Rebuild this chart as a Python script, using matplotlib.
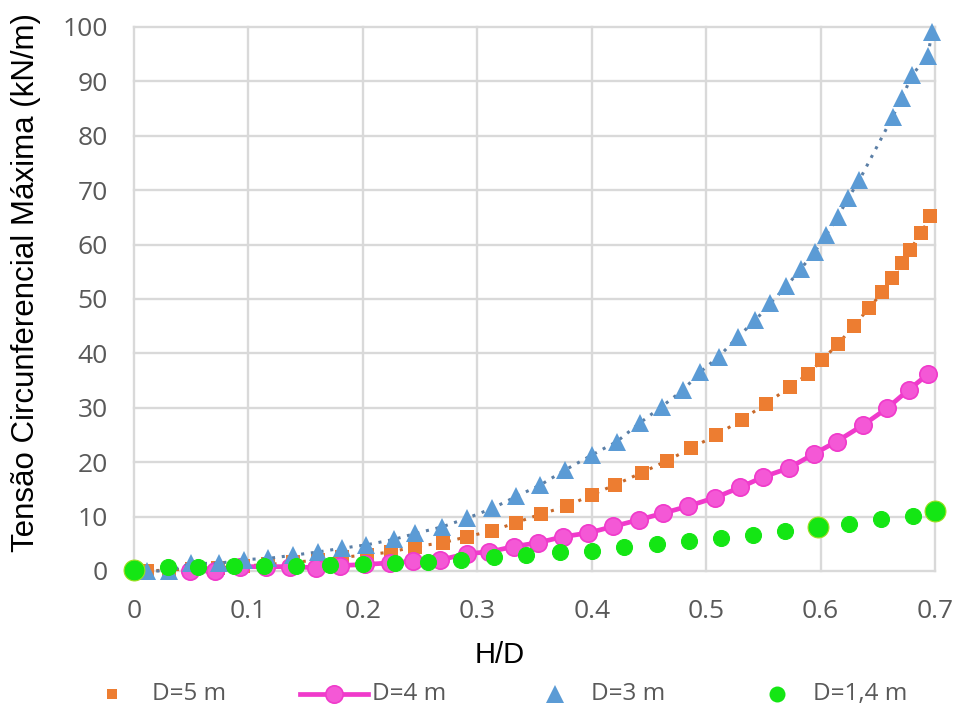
import matplotlib
matplotlib.use("Agg")
import matplotlib.pyplot as plt
from matplotlib.lines import Line2D

# ---- data: maximum hoop tension (kN/m) versus fill ratio H/D ----
hd_5m = [0.011, 0.031, 0.051, 0.073, 0.095, 0.117, 0.139, 0.161, 0.182, 0.204,
         0.225, 0.246, 0.270, 0.291, 0.313, 0.334, 0.356, 0.378, 0.400, 0.420,
         0.444, 0.466, 0.487, 0.509, 0.531, 0.552, 0.573, 0.589, 0.601, 0.615,
         0.629, 0.642, 0.654, 0.662, 0.671, 0.678, 0.688, 0.696]
t_5m = [0.0, 0.2, 0.4, 0.6, 0.9, 1.2, 1.6, 2.0, 2.5, 3.0,
        3.5, 4.5, 5.2, 6.3, 7.4, 8.9, 10.5, 11.9, 14.0, 15.8,
        18.1, 20.3, 22.6, 25.0, 27.8, 30.7, 33.8, 36.2, 38.7, 41.7,
        45.0, 48.3, 51.2, 53.8, 56.6, 59.0, 62.1, 65.3]

hd_4m = [0.049, 0.071, 0.093, 0.115, 0.136, 0.159, 0.180, 0.202, 0.224, 0.244,
         0.267, 0.291, 0.310, 0.332, 0.353, 0.375, 0.397, 0.419, 0.441, 0.462,
         0.484, 0.508, 0.530, 0.550, 0.572, 0.594, 0.614, 0.637, 0.658, 0.677,
         0.694]
t_4m = [0.0, 0.0, 0.8, 0.8, 0.8, 0.6, 1.0, 1.2, 1.5, 1.8,
        2.0, 3.2, 3.5, 4.5, 5.2, 6.3, 7.0, 8.2, 9.4, 10.6,
        11.9, 13.5, 15.4, 17.3, 18.9, 21.5, 23.8, 26.8, 29.9, 33.3,
        36.2]

hd_3m = [0.011, 0.031, 0.050, 0.074, 0.096, 0.117, 0.139, 0.161, 0.182, 0.203,
         0.227, 0.246, 0.269, 0.291, 0.313, 0.334, 0.355, 0.377, 0.400, 0.422,
         0.442, 0.461, 0.480, 0.495, 0.511, 0.528, 0.543, 0.556, 0.570, 0.583,
         0.595, 0.605, 0.615, 0.624, 0.634, 0.663, 0.671, 0.680, 0.694, 0.697]
t_3m = [0.0, 0.0, 1.4, 1.4, 2.1, 2.3, 2.9, 3.5, 4.2, 4.8,
        5.8, 6.9, 8.1, 9.7, 11.5, 13.7, 15.8, 18.6, 21.3, 23.8,
        27.2, 30.2, 33.3, 36.6, 39.4, 43.1, 46.1, 49.2, 52.3, 55.6,
        58.7, 61.8, 65.1, 68.5, 71.9, 83.5, 86.9, 91.2, 94.7, 99.0]

hd_14m = [0.000, 0.030, 0.056, 0.087, 0.114, 0.142, 0.171, 0.200, 0.228, 0.257,
          0.286, 0.315, 0.343, 0.372, 0.400, 0.428, 0.457, 0.485, 0.513, 0.541,
          0.569, 0.598, 0.625, 0.653, 0.681, 0.700]
t_14m = [0.2, 0.8, 0.8, 0.9, 1.0, 1.0, 1.1, 1.3, 1.5, 1.7,
         2.1, 2.6, 2.9, 3.5, 3.7, 4.4, 5.0, 5.6, 6.0, 6.7,
         7.4, 8.0, 8.6, 9.5, 10.1, 11.1]
emphasized_14m = [0, 21, 25]   # points drawn with a larger marker

series_labels = ["D=5 m", "D=4 m", "D=3 m", "D=1,4 m"]
x_ticks = [0, 0.1, 0.2, 0.3, 0.4, 0.5, 0.6, 0.7]
x_tick_labels = ["0", "0.1", "0.2", "0.3", "0.4", "0.5", "0.6", "0.7"]
y_ticks = [0, 10, 20, 30, 40, 50, 60, 70, 80, 90, 100]
x_title = "H/D"
y_title = "Tensão Circunferencial Máxima (kN/m)"

# ---- styling ----
ORANGE = "#ED7D31"
ORANGE_DOT = "#C8692A"
PINK = "#F03ACB"
PINK_FACE = "#F458D6"
BLUE = "#5B9BD5"
BLUE_DOT = "#5B7FA6"
GREEN = "#14E614"
GRID = "#D9D9D9"
TICK_COLOR = "#595959"
TICK_FONT = ["Open Sans", "DejaVu Sans"]
TITLE_FONT = ["Liberation Sans", "DejaVu Sans"]

W, H = 960, 709
fig = plt.figure(figsize=(W / 100, H / 100), dpi=100)
fig.patch.set_facecolor("white")


def fx(px):
    return px / W


def fy(py):
    return 1 - py / H


ax = fig.add_axes([fx(134), fy(571), fx(935) - fx(134), fy(27) - fy(571)])
ax.set_xlim(0, 0.7)
ax.set_ylim(0, 100)
ax.set_xticks(x_ticks)
ax.set_xticklabels(x_tick_labels)
ax.set_yticks(y_ticks)
for s in ax.spines.values():
    s.set_visible(False)
ax.grid(True, color=GRID, linewidth=1.7, zorder=0)
ax.set_axisbelow(True)
for gl in ax.get_xgridlines() + ax.get_ygridlines():
    gl.set_clip_on(False)
ax.tick_params(axis="both", length=0, labelsize=19, labelcolor=TICK_COLOR)
ax.tick_params(axis="y", pad=19)
ax.tick_params(axis="x", pad=20)
for lab in ax.get_xticklabels() + ax.get_yticklabels():
    lab.set_fontfamily(TICK_FONT)

dot = (0, (1, 2.2))

# D=5 m: orange squares joined by a dotted line
ax.plot(hd_5m, t_5m, linestyle=dot, color=ORANGE_DOT, linewidth=2.2,
        zorder=2, clip_on=False)
ax.plot(hd_5m, t_5m, linestyle="none", marker="s", markersize=9.5,
        color=ORANGE, markeredgewidth=0, zorder=3, clip_on=False)

# D=4 m: magenta circles on a solid line
ax.plot(hd_4m, t_4m, linestyle="-", color=PINK, linewidth=3.4,
        marker="o", markersize=12.5, markerfacecolor=PINK_FACE,
        markeredgecolor=PINK, markeredgewidth=1.2, zorder=4, clip_on=False)

# D=3 m: blue triangles joined by a dotted line
ax.plot(hd_3m, t_3m, linestyle=dot, color=BLUE_DOT, linewidth=2.2,
        zorder=5, clip_on=False)
ax.plot(hd_3m, t_3m, linestyle="none", marker="^", markersize=13,
        color=BLUE, markeredgewidth=0, zorder=6, clip_on=False)

# D=1,4 m: green circles, no line
sizes = [15 if i in emphasized_14m else 11.5 for i in range(len(hd_14m))]
for x, y, ms in zip(hd_14m, t_14m, sizes):
    ax.plot([x], [y], linestyle="none", marker="o", markersize=ms,
            color=GREEN, markeredgecolor="#9BE01E" if ms > 12 else GREEN,
            markeredgewidth=0.8, zorder=7, clip_on=False)

# axis titles
fig.text(fx(26), fy(283), y_title, rotation=90, ha="center", va="center",
         fontsize=22.5, family=TITLE_FONT, color="black")
fig.text(fx(500), fy(655), x_title, ha="center", va="center",
         fontsize=21, family=TITLE_FONT, color="black")

# legend row along the bottom
ly = fy(694)
tf = fig.transFigure
fig.add_artist(Line2D([fx(112)], [ly], transform=tf, linestyle="none",
                      marker="s", markersize=7.5, color=ORANGE,
                      markeredgewidth=0))
fig.add_artist(Line2D([fx(300), fx(368)], [ly, ly], transform=tf,
                      color=PINK, linewidth=3.4))
fig.add_artist(Line2D([fx(334)], [ly], transform=tf, linestyle="none",
                      marker="o", markersize=12.5, markerfacecolor=PINK_FACE,
                      markeredgecolor=PINK, markeredgewidth=1.2))
fig.add_artist(Line2D([fx(555)], [ly], transform=tf, linestyle="none",
                      marker="^", markersize=12.5, color=BLUE,
                      markeredgewidth=0))
fig.add_artist(Line2D([fx(777)], [ly], transform=tf, linestyle="none",
                      marker="o", markersize=11.5, color=GREEN,
                      markeredgewidth=0))
for label, px in zip(series_labels, [152, 372, 591, 813]):
    fig.text(fx(px), ly, label, ha="left", va="center", fontsize=17.5,
             family=TICK_FONT, color=TICK_COLOR)

fig.savefig("out.png", dpi=100, facecolor="white")
